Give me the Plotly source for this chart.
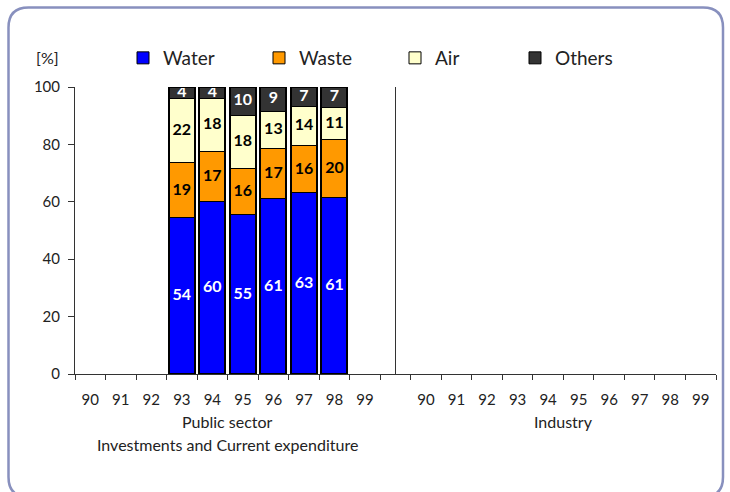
import plotly.graph_objects as go

# ---- data ----
years = ["90", "91", "92", "93", "94", "95", "96", "97", "98", "99"]
bar_years = ["93", "94", "95", "96", "97", "98"]
water = [54.4, 60.0, 55.4, 60.9, 63.0, 61.4]
waste = [19.0, 17.4, 16.2, 17.4, 16.4, 20.2]
air = [22.4, 18.4, 18.4, 13.1, 13.7, 11.2]
others = [4.2, 4.2, 10.0, 8.6, 6.9, 7.2]
series_names = ["Water", "Waste", "Air", "Others"]
group_titles = ["Public sector", "Investments and Current expenditure", "Industry"]

# ---- layout geometry (pixels) ----
WIDTH, HEIGHT = 730, 492
L, R, T, B = 75, 716, 87, 374
PW, PH = R - L, B - T


def px2x(px):
    return (px - L) / PW


def py2y(py):
    return (B - py) / PH


FONT = "Lato"
pub_cats = ["P" + y for y in years]
ind_cats = ["I" + y for y in years]
all_cats = pub_cats + ["gap"] + ind_cats
tick_text = years + [""] + years
bar_x = ["P" + y for y in bar_years]

colors = ["#0000FF", "#FF9900", "#FFFFCC", "#333333"]
text_colors = ["white", "black", "black", "white"]
values = [water, waste, air, others]
legends = ["legend", "legend2", "legend3", "legend4"]

fig = go.Figure()
for name, vals, col, lg in zip(series_names, values, colors, legends):
    fig.add_trace(go.Bar(
        x=bar_x, y=vals, name=name, legend=lg,
        marker=dict(color=col, line=dict(color="black", width=1)),
        width=0.85, hoverinfo="skip",
    ))

# outline of each whole column
totals = [sum(v) for v in zip(*values)]
fig.add_trace(go.Bar(
    x=bar_x, y=totals, xaxis="x2", width=0.85, showlegend=False,
    marker=dict(color="rgba(0,0,0,0)", line=dict(color="black", width=2)),
    hoverinfo="skip",
))

# value labels centred in each stacked segment
base = [0.0] * len(bar_x)
for vals, tcol in zip(values, text_colors):
    mids = [b + v / 2 for b, v in zip(base, vals)]
    fig.add_trace(go.Scatter(
        x=bar_x, y=mids, mode="text", text=[f"{v:.0f}" for v in vals],
        textposition="middle center", showlegend=False, hoverinfo="skip",
        cliponaxis=False,
        textfont=dict(family=FONT, size=16, color=tcol, weight="bold"),
    ))
    base = [b + v for b, v in zip(base, vals)]

# frame
x0, x1, y0, y1, r = 8.5, 723, 7.5, 497, 20


def P(px, py):
    return f"{px2x(px)},{py2y(py)}"


frame = (f"M {P(x0 + r, y0)} L {P(x1 - r, y0)} Q {P(x1, y0)} {P(x1, y0 + r)} "
         f"L {P(x1, y1 - r)} Q {P(x1, y1)} {P(x1 - r, y1)} "
         f"L {P(x0 + r, y1)} Q {P(x0, y1)} {P(x0, y1 - r)} "
         f"L {P(x0, y0 + r)} Q {P(x0, y0)} {P(x0 + r, y0)} Z")

shapes = [
    dict(type="path", path=frame, xref="paper", yref="paper",
         line=dict(color="#8890BE", width=2.5), layer="below"),
    dict(type="line", xref="x", yref="y", x0=10, x1=10, y0=0, y1=100,
         line=dict(color="#333333", width=1)),
]

ann_font = dict(family=FONT, size=16, color="#222")
annotations = [
    dict(text="[%]", xref="paper", yref="paper", x=px2x(47), y=py2y(58),
         xanchor="center", yanchor="middle", showarrow=False, font=ann_font),
    dict(text=group_titles[0], xref="x", yref="paper", x=4.5, y=py2y(421),
         xanchor="center", yanchor="middle", showarrow=False, font=ann_font),
    dict(text=group_titles[1], xref="x", yref="paper", x=4.5, y=py2y(444),
         xanchor="center", yanchor="middle", showarrow=False, font=ann_font),
    dict(text=group_titles[2], xref="x", yref="paper", x=15.5, y=py2y(421),
         xanchor="center", yanchor="middle", showarrow=False, font=ann_font),
]

leg_px = [123, 259, 395, 515]
legend_cfg = {}
for lg, lp in zip(legends, leg_px):
    legend_cfg[lg] = dict(
        x=px2x(lp), y=py2y(58), xanchor="left", yanchor="middle",
        orientation="h", bgcolor="rgba(0,0,0,0)",
        font=dict(family=FONT, size=19, color="#222"),
    )

fig.update_layout(
    width=WIDTH, height=HEIGHT,
    margin=dict(l=L, r=WIDTH - R, t=T, b=HEIGHT - B, autoexpand=False),
    paper_bgcolor="white", plot_bgcolor="white",
    barmode="stack", bargap=0,
    font=dict(family=FONT, size=14, color="#222"),
    shapes=shapes, annotations=annotations,
    xaxis=dict(type="category", categoryorder="array", categoryarray=all_cats,
               range=[-0.5, 20.5], tickvals=all_cats, ticktext=tick_text,
               tickson="boundaries", ticks="outside", ticklen=5, tickcolor="#333",
               showline=True, linecolor="#333", linewidth=1, showgrid=False,
               zeroline=False, ticklabelstandoff=12,
               tickfont=dict(family=FONT, size=15, color="#222")),
    xaxis2=dict(type="category", categoryorder="array", categoryarray=all_cats,
                range=[-0.5, 20.5], overlaying="x", visible=False),
    yaxis=dict(range=[0, 100], dtick=20, ticks="outside", ticklen=6, tickcolor="#333",
               showline=True, linecolor="#333", linewidth=1, showgrid=False,
               zeroline=False, ticklabelstandoff=5,
               tickfont=dict(family=FONT, size=15, color="#222")),
    **legend_cfg,
)

fig.write_html("out.html", config={"displayModeBar": False},
               post_script="document.body.style.margin='0';document.body.style.overflow='hidden';")
